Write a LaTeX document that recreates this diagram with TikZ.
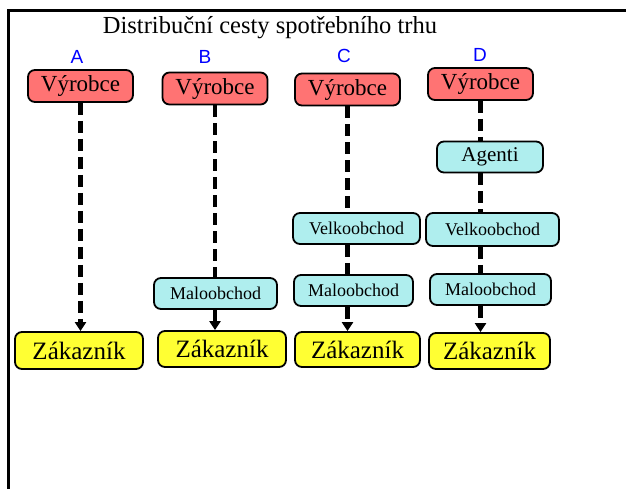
\documentclass[tikz,border=0pt]{standalone}
\usepackage{fontspec}
\setmainfont{Liberation Serif}
\newfontfamily\pismo{Liberation Sans}
\usetikzlibrary{arrows.meta}
\definecolor{vyrred}{HTML}{FF7373}
\definecolor{mezicyan}{HTML}{AFEEEE}
\definecolor{zakyellow}{HTML}{FFFF33}

\begin{document}
\begin{tikzpicture}[x=1pt,y=-1pt]
  \tikzset{box/.style = {shape=rectangle,draw,line width=1.8pt,rounded corners=7pt,inner sep=0pt}}
  \tikzset{vyr/.style = {box,fill=vyrred,minimum width=105pt,minimum height=32pt,font=\fontsize{23}{25}\selectfont}}
  \tikzset{mezi/.style = {box,fill=mezicyan,minimum height=31pt,font=\fontsize{18}{20}\selectfont}}
  \tikzset{zak/.style = {box,fill=zakyellow,minimum height=36pt,font=\fontsize{25}{27}\selectfont}}
  \tikzset{pismeno/.style = {text=blue,font=\pismo\fontsize{19}{21}\selectfont}}
  \tikzset{spoj/.style = {line width=4.5pt,dash pattern=on 12pt off 6pt}}
  \tikzset{%
  tipA/.tip={Triangle[width=11pt,length=9pt]},
}
  \useasboundingbox (0,0) rectangle (626,488);
	\draw[line width=3pt] (8.5,490) -- (8.5,10.5) -- (628,10.5);

	\node[font=\fontsize{24.5}{26}\selectfont] (nadpis) at (270,28) {Distribuční cesty spotřebního trhu};

	\node[pismeno] (pA) at (77,57) {A};
	\node[pismeno] (pB) at (205,57) {B};
	\node[pismeno] (pC) at (344,56) {C};
	\node[pismeno] (pD) at (480,55) {D};

	\node[vyr] (vA) at (80.5,86) {Výrobce};
	\node[vyr] (vB) at (215,88.5) {Výrobce};
	\node[vyr] (vC) at (347.5,89.5) {Výrobce};
	\node[vyr] (vD) at (480.5,84) {Výrobce};

	\node[mezi,minimum width=106pt,font=\fontsize{21}{23}\selectfont] (aD) at (490,157) {Agenti};

	\node[mezi,minimum width=127pt] (velC) at (356.5,228.5) {Velkoobchod};
	\node[mezi,minimum width=133pt,minimum height=33pt] (velD) at (492.5,229.5) {Velkoobchod};

	\node[mezi,minimum width=123pt] (malB) at (215.5,293.5) {Maloobchod};
	\node[mezi,minimum width=119pt] (malC) at (353.5,290.5) {Maloobchod};
	\node[mezi,minimum width=121pt] (malD) at (490.5,289.5) {Maloobchod};

	\node[zak,minimum width=128pt,minimum height=37pt] (zA) at (79,350.5) {Zákazník};
	\node[zak,minimum width=128pt] (zB) at (222,349) {Zákazník};
	\node[zak,minimum width=125pt,minimum height=35pt] (zC) at (357.5,349.5) {Zákazník};
	\node[zak,minimum width=121pt] (zD) at (489.5,351) {Zákazník};

    \foreach \from/\to/\col in {vB/malB/vB, vC/velC/vC, velC/malC/vC, vD/aD/vD, aD/velD/vD, velD/malD/vD}
    \draw[spoj] (\from.south -| \col) -- (\to.north -| \col);

    \foreach \from/\to/\col in {vA/zA/vA, malB/zB/vB, malC/zC/vC, malD/zD/vD}
    \draw[spoj,-tipA] (\from.south -| \col) -- (\to.north -| \col);

\end{tikzpicture}
\end{document}
